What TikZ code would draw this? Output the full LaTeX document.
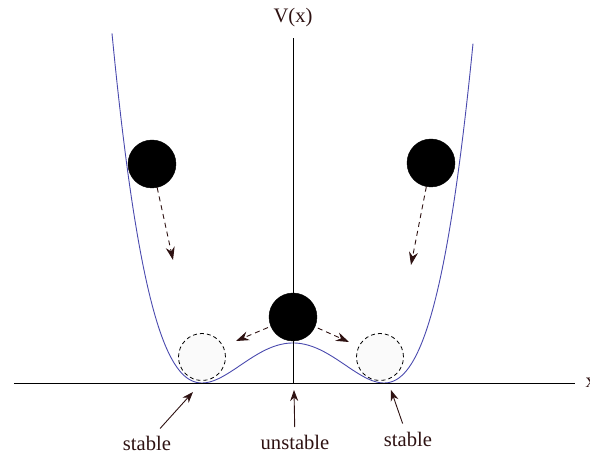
\documentclass[tikz,border=0pt]{standalone}
\usepackage{xcolor}
\usepackage{fontspec}
\setmainfont{Liberation Serif}
\usepackage{tikz}
\usetikzlibrary{arrows.meta,positioning}
\definecolor{CurveBlue}{HTML}{4A4AAE}
\definecolor{DarkBrown}{HTML}{2E1212}
\definecolor{GhostGray}{HTML}{FAFAFA}
\tikzset{
  BL/.style={circle,fill=black,draw=black,minimum size=48pt,inner sep=0pt},
  GH/.style={circle,fill=GhostGray,draw=black,dashed,line width=0.8pt,
             dash pattern=on 4pt off 3pt,minimum size=47pt,inner sep=0pt},
  arr/.style={-{Stealth[length=11pt,width=8pt]},line width=0.9pt,DarkBrown},
  darr/.style={-{Stealth[length=13pt,width=9pt]},line width=0.9pt,DarkBrown,
               dash pattern=on 5pt off 4pt},
  LB/.style={font=\fontsize{20.6}{24}\selectfont,text=DarkBrown},
  AX/.style={line width=0.9pt,black}
}
\begin{document}
\begin{tikzpicture}[x=1pt,y=1pt]
  \useasboundingbox (-293,-71) rectangle (297,383);
  % potential
  \draw[CurveBlue,line width=0.9pt,domain=-181:180,samples=200,smooth]
    plot (\x,{40*(1-(\x/91)^2)^2});
  % axes
  \draw[AX] (-279,0) -- (282,0);
  \draw[AX] (0,0) -- (0,345);
  \node[LB] (vx) at (0,365) {V(x)};
  \node[LB,anchor=west] (xl) at (289,0) {x};

  % balls
  \node[GH] (ghL) at (-91,26) {};
  \node[GH] (ghR) at (87,26) {};
  \node[BL] (ballL) at (-141,219) {};
  \node[BL] (ballR) at (138,220) {};
  \node[BL] (ballM) at (0,66) {};

  \coordinate (fallL) at (-120,123);
  \coordinate (fallR) at (118,118);
  \coordinate (rollL) at (-57,42);
  \coordinate (rollR) at (56,41);
  \draw[darr] (ballL)--(fallL);
  \draw[darr] (ballR)--(fallR);
  \draw[darr,shorten <=3pt] (ballM)--(rollL);
  \draw[darr,shorten <=3pt] (ballM)--(rollR);

  % labels
  \node[LB] (stL) at (-146,-60) {stable};
  \node[LB] (unst) at (2,-59) {unstable};
  \node[LB] (stR) at (115,-56) {stable};
  \coordinate (minL) at (-100,-9);
  \coordinate (maxM) at (1,-7);
  \coordinate (minR) at (98,-7);
  \draw[arr,shorten <=5pt] (stL)--(minL);
  \draw[arr,shorten <=4pt] (unst)--(maxM);
  \draw[arr,shorten <=5pt] (stR)--(minR);
\end{tikzpicture}
\end{document}
